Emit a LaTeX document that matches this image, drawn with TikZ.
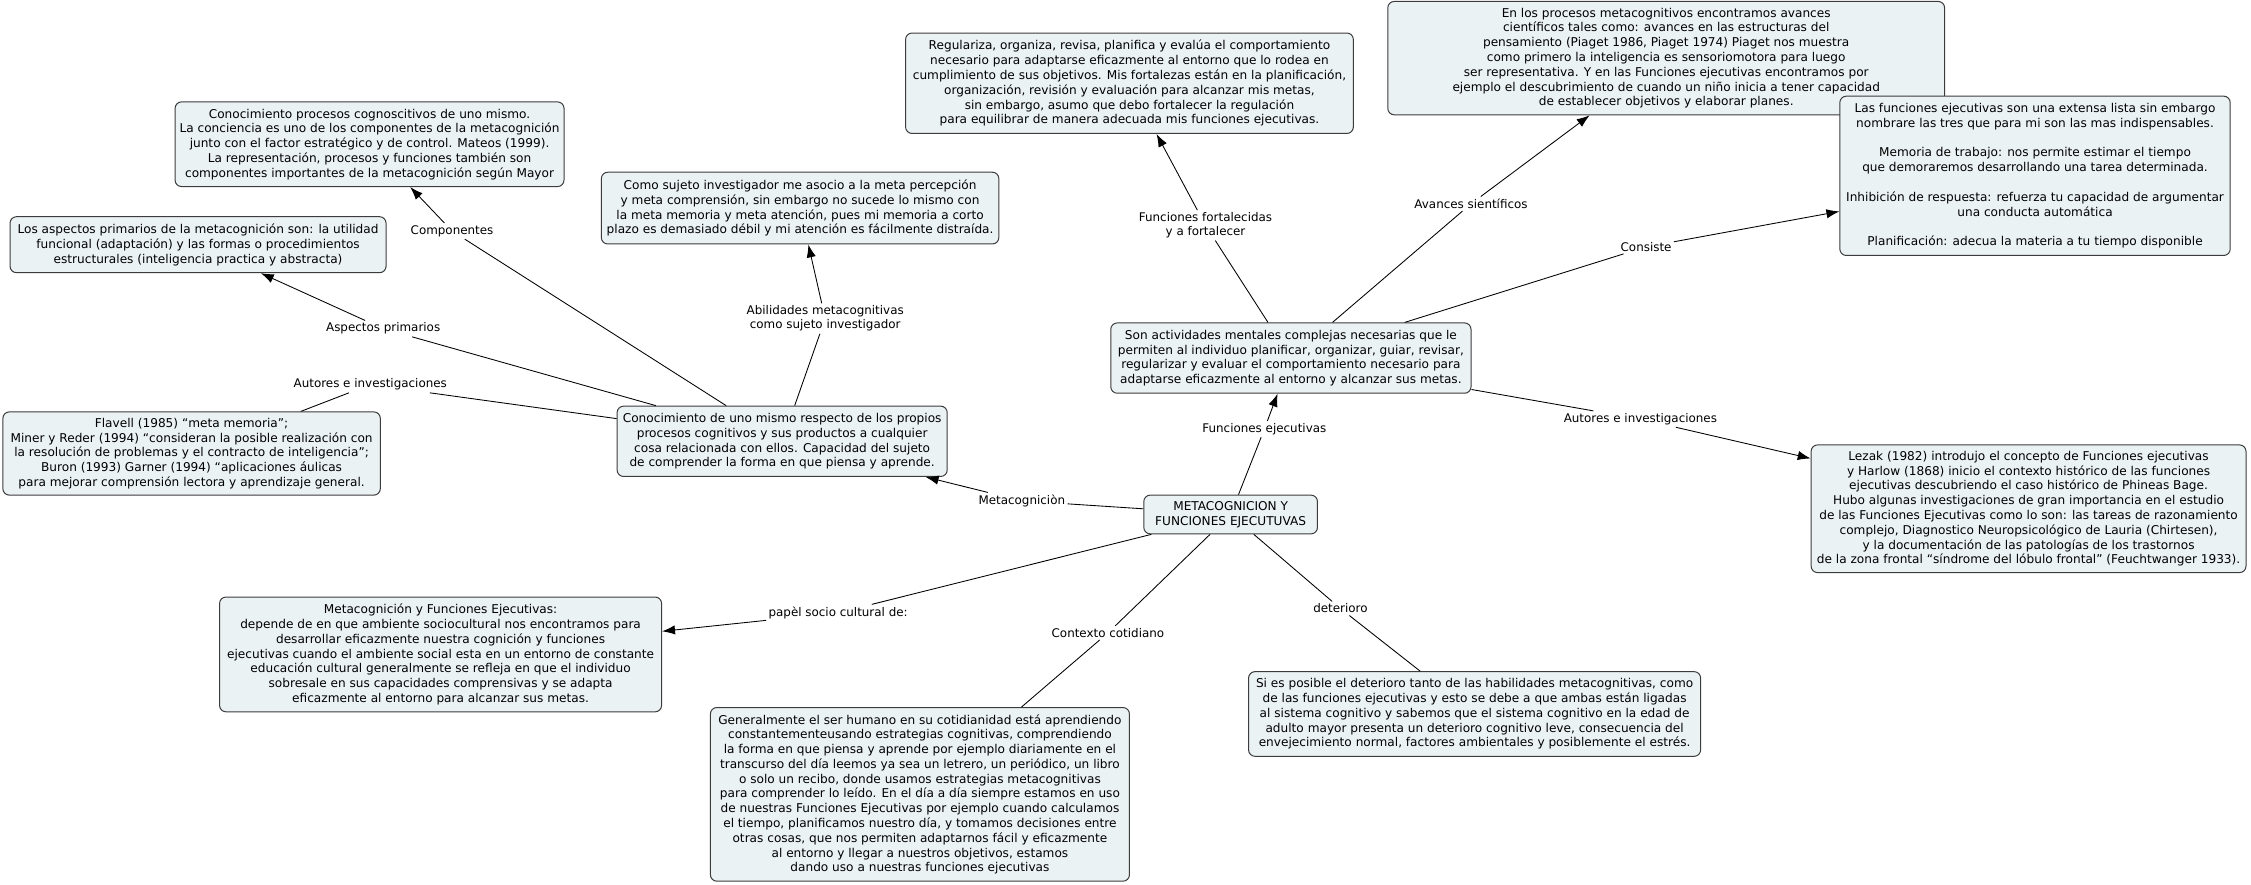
\documentclass[tikz,border=0pt]{standalone}
\usepackage{fontspec}
\setmainfont{DejaVu Sans}
\usetikzlibrary{arrows.meta}
\definecolor{boxfill}{RGB}{235,242,244}
\definecolor{boxline}{RGB}{60,60,60}
\tikzset{
  concept/.style={draw=boxline, fill=boxfill, rounded corners=4.5pt, line width=0.7pt,
    align=center, inner sep=1pt, font=\fontsize{8.45}{10.3}\selectfont},
  lbl/.style={align=center, inner sep=1.5pt, font=\fontsize{8.3}{9.8}\selectfont},
  link/.style={line width=0.6pt, draw=black},
  arr/.style={link, -{Latex[length=9pt,width=6.5pt]}}
}
\begin{document}
\begin{tikzpicture}[x=1pt,y=-1pt]
\useasboundingbox (0,0) rectangle (1568.5,616);
% concepts
\node[concept, minimum width=121pt, minimum height=27pt] (c0) at (857.5,358.5) {METACOGNICION Y\\FUNCIONES EJECUTUVAS};
\node[concept, minimum width=230pt, minimum height=49pt] (meta) at (545,307.5) {Conocimiento de uno mismo respecto de los propios\\procesos cognitivos y sus productos a cualquier\\cosa relacionada con ellos. Capacidad del sujeto\\de comprender la forma en que piensa y aprende.};
\node[concept, minimum width=251pt, minimum height=49pt] (fe) at (899.5,249.5) {Son actividades mentales complejas necesarias que le\\permiten al individuo planificar, organizar, guiar, revisar,\\regularizar y evaluar el comportamiento necesario para\\adaptarse eficazmente al entorno y alcanzar sus metas.};
\node[concept, minimum width=271pt, minimum height=59pt] (comp) at (257.5,100.5) {Conocimiento procesos cognoscitivos de uno mismo.\\La conciencia es uno de los componentes de la metacognición\\junto con el factor estratégico y de control. Mateos (1999).\\La representación, procesos y funciones también son\\componentes importantes de la metacognición según Mayor};
\node[concept, minimum width=262pt, minimum height=39pt] (asp) at (138,170.5) {Los aspectos primarios de la metacognición son: la utilidad\\funcional (adaptación) y las formas o procedimientos\\estructurales (inteligencia practica y abstracta)};
\node[concept, minimum width=263pt, minimum height=58pt] (flav) at (133.5,316) {Flavell (1985) “meta memoria”;\\Miner y Reder (1994) “consideran la posible realización con\\la resolución de problemas y el contracto de inteligencia”;\\Buron (1993) Garner (1994) “aplicaciones áulicas\\para mejorar comprensión lectora y aprendizaje general.};
\node[concept, minimum width=277pt, minimum height=50pt] (suj) at (557.5,145) {Como sujeto investigador me asocio a la meta percepción\\y meta comprensión, sin embargo no sucede lo mismo con\\la meta memoria y meta atención, pues mi memoria a corto\\plazo es demasiado débil y mi atención es fácilmente distraída.};
\node[concept, minimum width=312pt, minimum height=70pt] (reg) at (787,58) {Regulariza, organiza, revisa, planifica y evalúa el comportamiento\\necesario para adaptarse eficazmente al entorno que lo rodea en\\cumplimiento de sus objetivos. Mis fortalezas están en la planificación,\\organización, revisión y evaluación para alcanzar mis metas,\\sin embargo, asumo que debo fortalecer la regulación\\para equilibrar de manera adecuada mis funciones ejecutivas.};
\node[concept, minimum width=388pt, minimum height=79pt] (av) at (1161,40.5) {En los procesos metacognitivos encontramos avances\\científicos tales como: avances en las estructuras del\\pensamiento (Piaget 1986, Piaget 1974) Piaget nos muestra\\como primero la inteligencia es sensoriomotora para luego\\ser representativa. Y en las Funciones ejecutivas encontramos por\\ejemplo el descubrimiento de cuando un niño inicia a tener capacidad\\de establecer objetivos y elaborar planes.};
\node[concept, minimum width=272pt, minimum height=111pt] (lista) at (1418,122.5) {Las funciones ejecutivas son una extensa lista sin embargo\\nombrare las tres que para mi son las mas indispensables.\\[10.3pt]Memoria de trabajo: nos permite estimar el tiempo\\que demoraremos desarrollando una tarea determinada.\\[10.3pt]Inhibición de respuesta: refuerza tu capacidad de argumentar\\una conducta automática\\[10.3pt]Planificación: adecua la materia a tu tiempo disponible};
\node[concept, minimum width=303pt, minimum height=89pt] (lez) at (1413.5,354.5) {Lezak (1982) introdujo el concepto de Funciones ejecutivas\\y Harlow (1868) inicio el contexto histórico de las funciones\\ejecutivas descubriendo el caso histórico de Phineas Bage.\\Hubo algunas investigaciones de gran importancia en el estudio\\de las Funciones Ejecutivas como lo son: las tareas de razonamiento\\complejo, Diagnostico Neuropsicológico de Lauria (Chirtesen),\\y la documentación de las patologías de los trastornos\\de la zona frontal “síndrome del lóbulo frontal” (Feuchtwanger 1933).};
\node[concept, minimum width=308pt, minimum height=80pt] (soc) at (307,456) {Metacognición y Funciones Ejecutivas:\\depende de en que ambiente sociocultural nos encontramos para\\desarrollar eficazmente nuestra cognición y funciones\\ejecutivas cuando el ambiente social esta en un entorno de constante\\educación cultural generalmente se refleja en que el individuo\\sobresale en sus capacidades comprensivas y se adapta\\eficazmente al entorno para alcanzar sus metas.};
\node[concept, minimum width=292pt, minimum height=121pt] (cot) at (641,553.5) {Generalmente el ser humano en su cotidianidad está aprendiendo\\constantementeusando estrategias cognitivas, comprendiendo\\la forma en que piensa y aprende por ejemplo diariamente en el\\transcurso del día leemos ya sea un letrero, un periódico, un libro\\o solo un recibo, donde usamos estrategias metacognitivas\\para comprender lo leído. En el día a día siempre estamos en uso\\de nuestras Funciones Ejecutivas por ejemplo cuando calculamos\\el tiempo, planificamos nuestro día, y tomamos decisiones entre\\otras cosas, que nos permiten adaptarnos fácil y eficazmente\\al entorno y llegar a nuestros objetivos, estamos\\dando uso a nuestras funciones ejecutivas};
\node[concept, minimum width=315pt, minimum height=59pt] (det) at (1027.5,497.5) {Si es posible el deterioro tanto de las habilidades metacognitivas, como\\de las funciones ejecutivas y esto se debe a que ambas están ligadas\\al sistema cognitivo y sabemos que el sistema cognitivo en la edad de\\adulto mayor presenta un deterioro cognitivo leve, consecuencia del\\envejecimiento normal, factores ambientales y posiblemente el estrés.};
% labels
\node[lbl] (lcomp) at (315,161) {Componentes};
\node[lbl] (lasp) at (267,229) {Aspectos primarios};
\node[lbl] (laut1) at (258,268) {Autores e investigaciones};
\node[lbl] (labil) at (575,222) {Abilidades metacognitivas\\como sujeto investigador};
\node[lbl] (lmeta) at (712,349) {Metacogniciòn};
\node[lbl] (lfe) at (881,299) {Funciones ejecutivas};
\node[lbl] (lfort) at (840,157) {Funciones fortalecidas\\y a fortalecer};
\node[lbl] (lav) at (1025,142) {Avances sientíficos};
\node[lbl] (lcons) at (1147,172) {Consiste};
\node[lbl] (laut2) at (1143,292) {Autores e investigaciones};
\node[lbl] (lsoc) at (584,427) {papèl socio cultural de:};
\node[lbl] (lcot) at (772,441) {Contexto cotidiano};
\node[lbl] (ldet) at (934,424) {deterioro};
% links
\draw[link] (meta) -- (lcomp); \draw[arr] (lcomp) -- (comp);
\draw[link] (meta) -- (lasp); \draw[arr] (lasp) -- (asp);
\draw[link] (meta) -- (laut1); \draw[link] (laut1) -- (flav);
\draw[link] (meta) -- (labil); \draw[arr] (labil) -- (suj);
\draw[link] (c0) -- (lmeta); \draw[arr] (lmeta) -- (meta);
\draw[link] (c0) -- (lfe); \draw[arr] (lfe) -- (fe);
\draw[link] (fe) -- (lfort); \draw[arr] (lfort) -- (reg);
\draw[link] (fe) -- (lav); \draw[arr] (lav) -- (av);
\draw[link] (fe) -- (lcons); \draw[arr] (lcons) -- (lista);
\draw[link] (fe) -- (laut2); \draw[arr] (laut2) -- (lez);
\draw[link] (c0) -- (lsoc); \draw[arr] (lsoc) -- (soc);
\draw[link] (c0) -- (lcot); \draw[link] (lcot) -- (cot);
\draw[link] (c0) -- (ldet); \draw[link] (ldet) -- (det);
\end{tikzpicture}
\end{document}
